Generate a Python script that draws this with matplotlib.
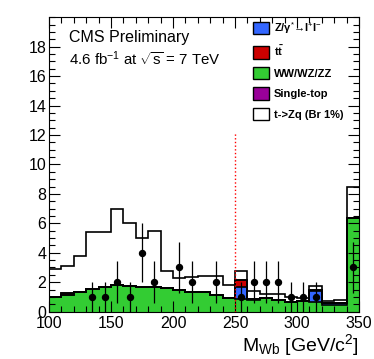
import numpy as np
import matplotlib
matplotlib.use("Agg")
import matplotlib.pyplot as plt
from matplotlib.patches import Patch

plt.rcParams['font.family'] = ['Liberation Sans', 'DejaVu Sans']
plt.rcParams['mathtext.fontset'] = 'custom'
plt.rcParams['mathtext.rm'] = 'Liberation Sans'
plt.rcParams['mathtext.it'] = 'Liberation Sans:italic'
plt.rcParams['mathtext.bf'] = 'Liberation Sans:bold'

# binning (10 GeV bins from 100 to 350)
edges = np.arange(100, 351, 10)

# stacked backgrounds + signal, one value per bin
ww_wz_zz = [1.0, 1.15, 1.3, 1.55, 1.66, 1.82, 1.75, 1.65, 1.65, 1.6,
            1.5, 1.35, 1.3, 1.1, 0.95, 0.85, 0.8, 0.9, 0.8, 0.68,
            0.72, 0.68, 0.45, 0.45, 6.35]
zgamma = [0, 0, 0, 0, 0, 0, 0, 0, 0, 0,
          0, 0, 0, 0, 0, 0.8, 0.05, 0, 0, 0,
          0, 0.75, 0.15, 0.15, 0]
ttbar = [0, 0.12, 0, 0, 0, 0, 0, 0, 0, 0,
         0, 0, 0, 0, 0, 0.5, 0, 0, 0, 0,
         0, 0.06, 0, 0, 0]
single_top = [0] * 25
signal = [1.9, 1.83, 2.45, 3.85, 3.74, 5.18, 4.25, 3.35, 3.85, 1.18,
          0.8, 1.0, 1.15, 1.35, 0.85, 0.62, 0.55, 0.3, 0.4, 0.3,
          0.19, 0.28, 0.15, 0.2, 2.1]

# observed events per bin
data_n = [0, 0, 0, 1, 1, 2, 1, 4, 2, 0,
          3, 2, 0, 2, 0, 1, 2, 2, 2, 1,
          1, 1, 0, 0, 3]

fig = plt.figure(figsize=(3.74, 3.59), dpi=100)
ax = fig.add_axes([0.131, 0.132, 0.829, 0.820])

layers = [(ww_wz_zz, '#33cc33'), (zgamma, '#3366ff'), (ttbar, '#cc0000'),
          (single_top, '#990099'), (signal, 'white')]
bottom = np.zeros(len(edges) - 1)
for vals, col in layers:
    top = bottom + np.array(vals)
    ax.stairs(top, edges, baseline=bottom, fill=True, color=col, lw=0)
    bottom = top

bottom = np.zeros(len(edges) - 1)
for vals, col in layers:
    top = bottom + np.array(vals)
    ax.stairs(top, edges, baseline=None, color='black', lw=1.2)
    bottom = top

# data points with sqrt(N) errors
centers = 0.5 * (edges[1:] + edges[:-1])
n = np.array(data_n, dtype=float)
m = n > 0
ax.errorbar(centers[m], n[m], yerr=np.sqrt(n[m]), fmt='o', color='black',
            ms=4.3, elinewidth=0.9, capsize=0, zorder=5)

# cut line
ax.plot([250, 250], [0, 12.2], color='red', ls=':', lw=1)

ax.set_xlim(100, 350)
ax.set_ylim(0, 20)
ax.set_xticks([100, 150, 200, 250, 300, 350])
ax.set_xticks(np.arange(100, 351, 10), minor=True)
ax.set_yticks(np.arange(0, 19, 2))
ax.set_yticks(np.arange(0, 20.1, 0.5), minor=True)
ax.tick_params(which='both', direction='in', top=True, right=True,
               labelsize=11.5, pad=2)
ax.tick_params(axis='x', pad=3)
ax.tick_params(which='major', length=8, width=0.8)
ax.tick_params(which='minor', length=4, width=0.8)
for s in ax.spines.values():
    s.set_linewidth(0.8)

ax.set_xlabel(r'M$_{\mathrm{Wb}}$ [GeV/c$^{2}$]', fontsize=14, loc='right',
              labelpad=1)

ax.text(0.065, 0.955, 'CMS Preliminary', transform=ax.transAxes,
        fontsize=11.5, va='top')
ax.text(0.065, 0.89, r'4.6 fb$^{-1}$ at $\sqrt{\mathrm{s}}$ = 7 TeV',
        transform=ax.transAxes, fontsize=10.8, va='top')

labels = ['Z/\u03b3$^{*}$\u2192l$^{+}$l$^{-}$',
          r'$\mathbf{t\bar{t}}$', 'WW/WZ/ZZ', 'Single-top', 't->Zq (Br 1%)']
colors = ['#3366ff', '#cc0000', '#33cc33', '#990099', 'white']
handles = [Patch(facecolor=c, edgecolor='black', lw=1) for c in colors]
leg = fig.legend(handles, labels, loc='upper left',
                 bbox_to_anchor=(253 / 374, 1 - 20 / 359), frameon=False,
                 prop={'size': 8, 'weight': 'bold'}, handlelength=1.45,
                 handleheight=1.35, labelspacing=0.72, handletextpad=0.45,
                 borderpad=0, borderaxespad=0)

fig.savefig('out.png', dpi=100)
